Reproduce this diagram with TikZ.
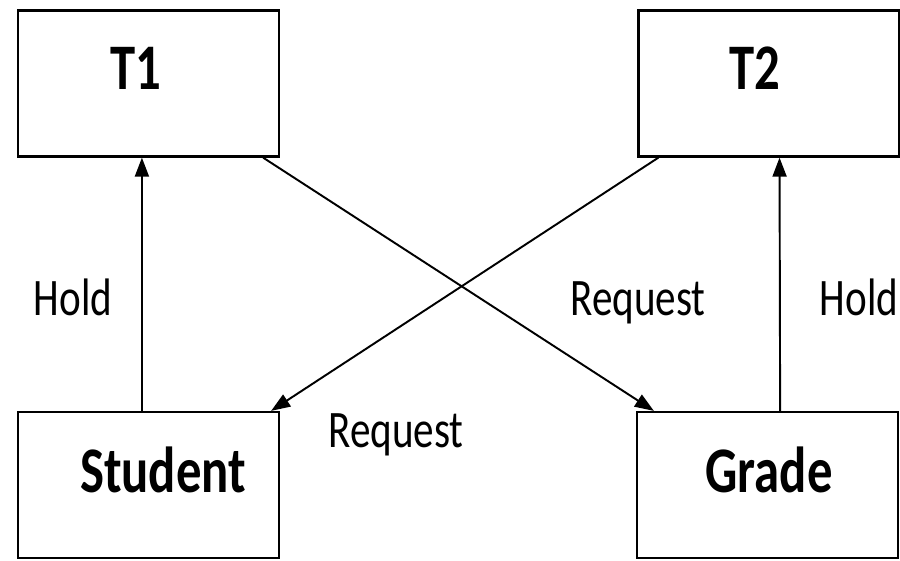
\documentclass[tikz,border=0pt]{standalone}
\usepackage{fontspec}
\setmainfont{Carlito}
\usetikzlibrary{arrows.meta,calc}
\tikzset{
  box/.style={draw, line width=1.3pt, minimum width=52.2mm, minimum height=29.2mm, inner sep=0pt},
  boxtext/.style={font=\fontsize{37}{40}\selectfont\bfseries, xscale=0.78, anchor=base, inner sep=0pt},
  lbl/.style={font=\fontsize{30}{34}\selectfont, xscale=0.78, anchor=base, inner sep=0pt},
  arr/.style={-{Triangle[length=3.8mm,width=2.8mm]}, line width=1.1pt}
}
\begin{document}
\begin{tikzpicture}[x=0.2mm,y=-0.2mm]
\useasboundingbox (0,0) rectangle (900,560);
\node[box] (t1) at (148.5,83.5) {}; \node[boxtext] (t1txt) at (136,89) {T1};
\node[box] (t2) at (769,83.5) {}; \node[boxtext] (t2txt) at (755,89) {T2};
\node[box] (stu) at (148.5,485) {}; \node[boxtext] (stutxt) at (163,492) {Student};
\node[box] (gra) at (767.5,485) {}; \node[boxtext] (gratxt) at (769,492) {Grade};
% hold edges
\draw[arr] ($(stu.north west)!0.475!(stu.north east)$) -- ($(t1.south west)!0.475!(t1.south east)$);
\draw[arr] ($(gra.north west)!0.548!(gra.north east)$) -- ($(t2.south west)!0.54!(t2.south east)$);
% request edges
\draw[arr] ($(t1.south east)+(-17,0)$) -- ($(gra.north west)+(18,0)$);
\draw[arr] ($(t2.south west)+(21,0)$) -- ($(stu.north east)+(-9,0)$);
\node[lbl] (h1) at (73,315) {Hold};
\node[lbl] (h2) at (859,315) {Hold};
\node[lbl] (r1) at (638,315) {Request};
\node[lbl] (r2) at (396,447) {Request};
\end{tikzpicture}
\end{document}
